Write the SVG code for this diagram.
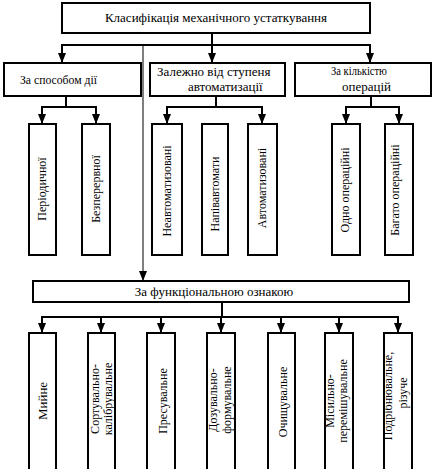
<svg xmlns="http://www.w3.org/2000/svg" width="433" height="469" viewBox="0 0 433 469" font-family="'Liberation Serif', 'DejaVu Serif', serif">
<style>
rect.box{fill:#fff;stroke:#000;stroke-width:2}
text{font-family:'Liberation Serif','DejaVu Serif',serif;font-size:12px;fill:#000}
.h{font-size:13px}
.c{stroke:#000;stroke-width:2;fill:none}
.t{stroke:#000;stroke-width:1;fill:none}
.v{text-anchor:middle}
</style>
<defs>
<marker id="ah" markerUnits="userSpaceOnUse" markerWidth="10" markerHeight="8" refX="10" refY="4" orient="auto" viewBox="0 0 10 8">
<path d="M0,0 L10,4 L0,8 z" fill="#000"/>
</marker>
</defs>
<g id="connectors">
<path class="c" d="M62,45 H370"/>
<path class="c" d="M212,33 V63" marker-end="url(#ah)"/>
<path class="c" d="M62,44 V63" marker-end="url(#ah)"/>
<path class="c" d="M370,44 V63" marker-end="url(#ah)"/>
<path class="t" d="M143,45 V281" marker-end="url(#ah)"/>
<path class="c" d="M66,96 V107 M42,107 H96"/>
<path class="c" d="M42,106 V124" marker-end="url(#ah)"/>
<path class="c" d="M96,106 V124" marker-end="url(#ah)"/>
<path class="c" d="M216,96 V107 M167,107 H262"/>
<path class="c" d="M167,106 V124" marker-end="url(#ah)"/>
<path class="c" d="M262,106 V124" marker-end="url(#ah)"/>
<path class="c" d="M371,96 V107 M346,107 H400"/>
<path class="c" d="M346,106 V124" marker-end="url(#ah)"/>
<path class="c" d="M399,106 V124" marker-end="url(#ah)"/>
<path class="c" d="M222,302 V317 M42,317 H399"/>
<path class="c" d="M42,316 V333" marker-end="url(#ah)"/>
<path class="c" d="M101,316 V333" marker-end="url(#ah)"/>
<path class="c" d="M161,316 V333" marker-end="url(#ah)"/>
<path class="c" d="M221,316 V333" marker-end="url(#ah)"/>
<path class="c" d="M281,316 V333" marker-end="url(#ah)"/>
<path class="c" d="M339,316 V333" marker-end="url(#ah)"/>
<path class="c" d="M398,316 V333" marker-end="url(#ah)"/>
</g>
<g id="root"><rect class="box" x="62" y="3" width="308" height="30"/><text class="h v" x="216" y="22">Класифікація механічного устаткування</text></g>
<g id="n-sposib"><rect class="box" x="4" y="63" width="137" height="33"/><text class="h" x="20" y="84" textLength="77" lengthAdjust="spacingAndGlyphs">За способом дії</text></g>
<g id="n-avtom"><rect class="box" x="150" y="63" width="135" height="33"/><text class="h" x="157" y="76">Залежно від ступеня</text><text class="h" x="188" y="91">автоматизації</text></g>
<g id="n-kilk"><rect class="box" x="295" y="63" width="136" height="33"/><text class="h" x="331" y="75" textLength="56" lengthAdjust="spacingAndGlyphs">За кількістю</text><text class="h" x="342" y="91">операцій</text></g>
<g id="n-period"><rect class="box" x="29" y="124" width="27" height="131"/><text class="v" transform="translate(46,189) rotate(-90)">Періодичної</text></g>
<g id="n-bezper"><rect class="box" x="82" y="124" width="28" height="131"/><text class="v" transform="translate(100,189) rotate(-90)">Безперервної</text></g>
<g id="n-neavt"><rect class="box" x="152" y="124" width="30" height="131"/><text class="v" transform="translate(171,191) rotate(-90)">Неавтоматизовані</text></g>
<g id="n-napiv"><rect class="box" x="202" y="124" width="26" height="131"/><text class="v" transform="translate(219,194) rotate(-90)">Напівавтомати</text></g>
<g id="n-avt"><rect class="box" x="248" y="124" width="29" height="131"/><text class="v" transform="translate(266,188) rotate(-90)">Автоматизовані</text></g>
<g id="n-odno"><rect class="box" x="332" y="124" width="28" height="131"/><text class="v" transform="translate(349,190) rotate(-90)">Одно операційні</text></g>
<g id="n-bagato"><rect class="box" x="385" y="124" width="28" height="131"/><text class="v" transform="translate(399,190) rotate(-90)">Багато операційні</text></g>
<g id="n-funk"><rect class="box" x="33" y="281" width="376" height="21"/><text class="h v" x="214" y="296">За функціональною ознакою</text></g>
<g id="n-miyne"><rect class="box" x="29" y="333" width="27" height="140"/><text class="h v" transform="translate(47,401) rotate(-90)">Мийне</text></g>
<g id="n-sort"><rect class="box" x="88" y="333" width="27" height="140"/><text class="v" transform="translate(99,399) rotate(-90)">Сортувально-</text><text class="v" transform="translate(112,399) rotate(-90)">калібрувальне</text></g>
<g id="n-pres"><rect class="box" x="147" y="333" width="28" height="140"/><text class="v" transform="translate(167,401) rotate(-90)">Пресувальне</text></g>
<g id="n-doz"><rect class="box" x="207" y="333" width="28" height="140"/><text class="v" transform="translate(217,400) rotate(-90)">Дозувально-</text><text class="v" transform="translate(231,400) rotate(-90)">формувальне</text></g>
<g id="n-ochysh"><rect class="box" x="268" y="333" width="27" height="140"/><text class="v" transform="translate(287,402) rotate(-90)">Очищувальне</text></g>
<g id="n-mis"><rect class="box" x="325" y="333" width="28" height="140"/><text class="v" transform="translate(334,401) rotate(-90)">Місильно-</text><text class="v" transform="translate(347,401) rotate(-90)">перемішувальне</text></g>
<g id="n-podr"><rect class="box" x="384" y="333" width="28" height="140"/><text class="v" transform="translate(392,396) rotate(-90)">Подрібнювальне,</text><text class="v" transform="translate(407,393) rotate(-90)">різуче</text></g>
</svg>
